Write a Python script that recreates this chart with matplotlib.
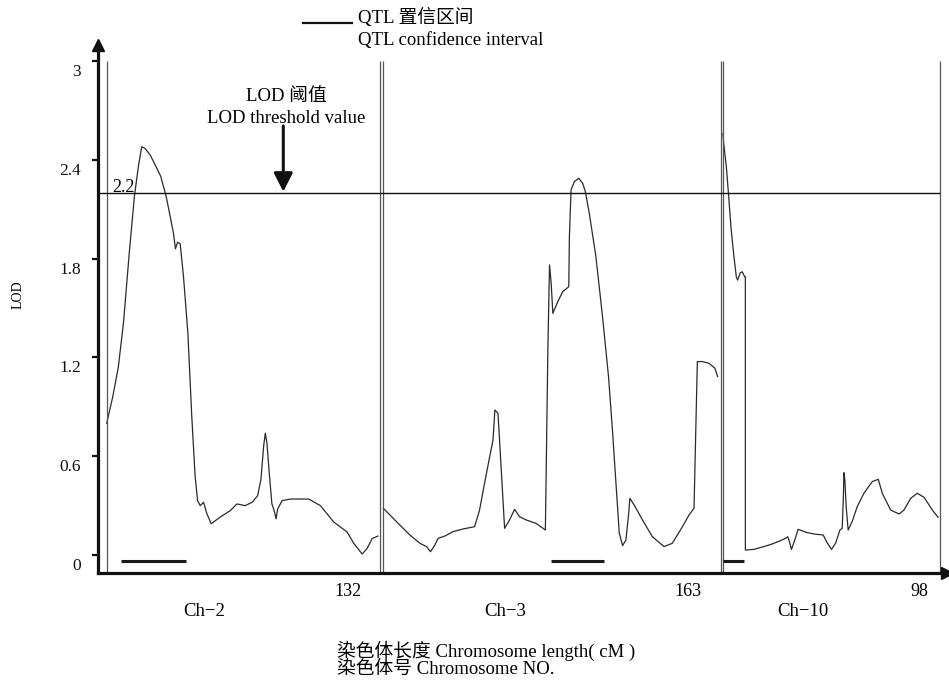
import numpy as np
import matplotlib
matplotlib.use('Agg')
from matplotlib import pyplot as plt
from matplotlib.lines import Line2D
from matplotlib.transforms import ScaledTranslation

plt.rcParams['font.family'] = ['Liberation Serif', 'Noto Sans CJK SC']

# ---- data ----
chromosomes = ['Ch\u22122', 'Ch\u22123', 'Ch\u221210']
chrom_length = [132, 163, 98]          # cM
lod_threshold = 2.2

ch2_cm = [0, 2.9, 5.6, 8.1, 11.0, 13.4, 15.3, 16.9, 18.5, 21.0, 23.4, 26.1, 28.7, 30.6,
          32.3, 33.2, 34.2, 35.5, 37.1, 39.2, 41.1, 42.7, 43.9, 45.2, 46.8, 48.4, 50.5,
          54.8, 59.7, 62.9, 66.9, 70.2, 72.9, 74.5, 75.8, 76.6, 77.4, 78.5, 79.8, 80.9,
          81.8, 82.6, 84.7, 88.7, 97.6, 103.2, 109.7, 116.1, 119.4, 123.4, 125.8, 128.2, 131.0]
ch2_lod = [0.80, 0.96, 1.14, 1.41, 1.85, 2.18, 2.36, 2.48, 2.47, 2.43, 2.37, 2.30, 2.18, 2.06,
           1.95, 1.86, 1.90, 1.89, 1.69, 1.35, 0.84, 0.48, 0.33, 0.30, 0.32, 0.25, 0.19,
           0.23, 0.27, 0.31, 0.30, 0.32, 0.36, 0.46, 0.66, 0.74, 0.68, 0.50, 0.31, 0.27,
           0.22, 0.28, 0.33, 0.34, 0.34, 0.30, 0.20, 0.14, 0.07, 0.006, 0.04, 0.10, 0.115]

ch3_cm = [0, 3.2, 8.0, 12.8, 17.7, 20.9, 22.8, 24.9, 26.5, 29.7, 33.7, 38.5, 44.1, 46.5,
          48.9, 51.4, 53.0, 53.9, 55.4, 57.0, 58.6, 61.0, 63.4, 65.8, 69.0, 73.8, 78.3,
          79.5, 80.3, 81.1, 81.9, 84.3, 86.7, 89.6, 89.9, 90.7, 92.3, 94.4, 96.3, 97.6,
          99.5, 102.7, 105.9, 108.8, 110.8, 112.4, 114.0, 115.6, 117.2, 118.4, 119.1, 121.2,
          125.2, 130.0, 135.6, 139.6, 144.5, 147.7, 150.1, 151.7, 154.1, 157.3, 160.2, 161.5]
ch3_lod = [0.284, 0.243, 0.182, 0.122, 0.071, 0.051, 0.020, 0.061, 0.101, 0.115, 0.142, 0.158,
           0.172, 0.273, 0.435, 0.597, 0.699, 0.881, 0.861, 0.516, 0.162, 0.213, 0.277, 0.233,
           0.213, 0.192, 0.152, 1.246, 1.762, 1.65, 1.468, 1.539, 1.60, 1.63, 1.934, 2.218,
           2.268, 2.289, 2.258, 2.208, 2.076, 1.813, 1.448, 1.084, 0.739, 0.435, 0.132, 0.057,
           0.091, 0.233, 0.344, 0.304, 0.213, 0.111, 0.051, 0.071, 0.172, 0.243, 0.284, 1.175,
           1.175, 1.165, 1.134, 1.084]

ch10_cm = [0, 0.3, 1.5, 2.5, 3.6, 4.8, 6.0, 6.6, 7.8, 8.7, 9.8, 10.1, 10.1, 13.9, 18.4, 22.2,
           25.9, 28.2, 29.2, 30.0, 30.9, 32.4, 33.9, 38.0, 41.8, 45.2, 47.0, 49.0, 50.8, 52.8,
           53.8, 54.3, 54.6, 55.0, 55.6, 56.5, 58.3, 60.6, 63.6, 67.4, 70.1, 71.9, 75.7, 79.5,
           81.7, 84.7, 87.7, 90.8, 94.5, 97.1]
ch10_lod = [2.56, 2.50, 2.36, 2.19, 1.99, 1.83, 1.69, 1.67, 1.715, 1.72, 1.69, 1.69, 0.030,
            0.034, 0.051, 0.067, 0.087, 0.101, 0.111, 0.081, 0.034, 0.091, 0.156, 0.136, 0.126,
            0.122, 0.075, 0.034, 0.071, 0.152, 0.162, 0.334, 0.500, 0.456, 0.294, 0.152, 0.203,
            0.294, 0.375, 0.446, 0.460, 0.375, 0.273, 0.249, 0.273, 0.344, 0.375, 0.350, 0.273,
            0.229]

# QTL confidence intervals (cM) per chromosome
qtl_start = [6.9, 81.0, 0.0]
qtl_end = [38.2, 106.6, 9.5]
qtl_level = -0.036

yticks = [0, 0.6, 1.2, 1.8, 2.4, 3]
ytick_labels = ['0', '0.6', '1.2', '1.8', '2.4', '3']

# ---- layout of the panels on the shared x axis ----
panel_left = [0, 133.6, 297.7]
panel_scale = [1.0, 1.0, 1.07]
length_label_x = [116.6, 280.8, 392.4]
chrom_label_x = [47.0, 192.7, 336.2]

curves = [(ch2_cm, ch2_lod), (ch3_cm, ch3_lod), (ch10_cm, ch10_lod)]

fig = plt.figure(figsize=(9.49, 6.83), dpi=100)
ax = fig.add_axes([98.3 / 949, 1 - 572.7 / 683, (947 - 98.3) / 949, (572.7 - 45) / 683])
ax.set_xlim(-4.06, 405.9)
ax.set_ylim(-0.1075, 3.098)

for i in range(3):
    x0 = panel_left[i]
    s = panel_scale[i]
    cm, lod = curves[i]
    ax.plot(x0 + np.array(cm) * s, lod, color='#2a2a2a', lw=0.9)
    # panel borders
    x1 = x0 + chrom_length[i] * s
    ax.vlines([x0, x1], -0.1075, 3.0, color='#555555', lw=0.9)
    # QTL confidence interval bar
    ax.plot([x0 + qtl_start[i] * s, x0 + qtl_end[i] * s], [qtl_level, qtl_level],
            color='#1a1a1a', lw=2.2, solid_capstyle='butt')
    # axis length label and chromosome name
    ax.text(length_label_x[i], -0.223, str(chrom_length[i]), ha='center', va='center',
            fontsize=13, clip_on=False)
    ax.text(chrom_label_x[i], -0.344, chromosomes[i], ha='center', va='center',
            fontsize=13.5, clip_on=False)

# threshold line
right_end = panel_left[2] + chrom_length[2] * panel_scale[2]
ax.hlines(lod_threshold, -4.06, right_end, color='#111111', lw=1.0)
ax.text(8.0, lod_threshold + 0.005, '2.2', ha='center', va='baseline', fontsize=13)

# threshold annotation
ax.annotate('', xy=(85.3, 2.207), xytext=(85.3, 2.606),
            arrowprops=dict(arrowstyle='-|>,head_length=0.75,head_width=0.38',
                            color='#111111', lw=2.2, mutation_scale=15,
                            shrinkA=0, shrinkB=0))
ax.text(86.9, 2.784, 'LOD 阈值', ha='center', va='center', fontsize=13.5)
ax.text(86.9, 2.653, 'LOD threshold value', ha='center', va='center', fontsize=13.5)

# axes styling
for side in ['top', 'right']:
    ax.spines[side].set_visible(False)
for side in ['left', 'bottom']:
    ax.spines[side].set_linewidth(2.3)
    ax.spines[side].set_color('#111111')
ax.plot(1, 0, '>', color='#111111', ms=8, transform=ax.transAxes, clip_on=False)
ax.plot(0, 1, '^', color='#111111', ms=8, transform=ax.transAxes, clip_on=False)

ax.set_xticks([])
ax.set_yticks(yticks)
ax.set_yticklabels(ytick_labels)
ax.tick_params(axis='y', direction='out', length=4.5, width=1.6, pad=8,
               labelsize=12.5, colors='#111111')
offset = ScaledTranslation(0, -0.09, fig.dpi_scale_trans)
for lab in ax.get_yticklabels():
    lab.set_transform(lab.get_transform() + offset)

# y label
fig.text(18 / 949, 1 - 295 / 683, 'LOD', rotation=90, ha='center', va='center', fontsize=10)

# legend for QTL confidence interval
fig.add_artist(Line2D([303.3 / 949, 351.7 / 949], [1 - 23.3 / 683, 1 - 23.3 / 683],
                      color='#111111', lw=1.6))
fig.text(358 / 949, 1 - 17.5 / 683, 'QTL 置信区间', ha='left', va='center', fontsize=13.5)
fig.text(358 / 949, 1 - 40 / 683, 'QTL confidence interval', ha='left', va='center', fontsize=13.5)

# x axis titles
fig.text(337 / 949, 1 - 651 / 683, '染色体长度 Chromosome length( cM )', ha='left', va='center',
         fontsize=13.5)
fig.text(337 / 949, 1 - 669 / 683, '染色体号 Chromosome NO.', ha='left', va='center',
         fontsize=13.5)

fig.savefig('out.png', dpi=100)
